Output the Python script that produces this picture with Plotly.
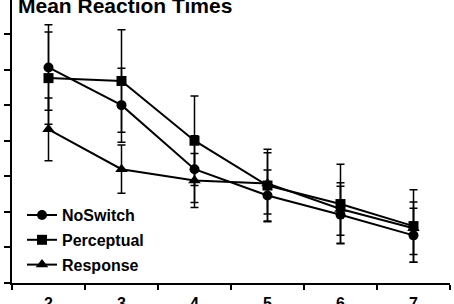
import plotly.graph_objects as go

categories = ["2", "3", "4", "5", "6", "7"]
series_names = ["NoSwitch", "Perceptual", "Response"]
noswitch = [703, 650, 560, 523, 496, 467]
noswitch_err = [60, 52, 47, 36, 40, 38]
perceptual = [688, 684, 600, 537, 511, 480]
perceptual_err = [65, 72, 63, 51, 56, 51]
response = [616, 560, 544, 540, 504, 477]
response_err = [44, 34, 38, 43, 37, 37]
y_tick_values = [400, 450, 500, 550, 600, 650, 700, 750]
title_text = "Mean Reaction Times"

FONT = "Arial, Liberation Sans, sans-serif"

fig = go.Figure()
series = [
    (series_names[0], noswitch, noswitch_err, "circle", 10),
    (series_names[1], perceptual, perceptual_err, "square", 10),
    (series_names[2], response, response_err, "triangle-up", 11),
]
for name, vals, errs, sym, size in series:
    fig.add_trace(go.Scatter(
        x=categories, y=vals, name=name, mode="lines+markers",
        legendgroup=name,
        line=dict(color="black", width=2),
        marker=dict(symbol=sym, size=size, color="black"),
        error_y=dict(type="data", array=errs, visible=True,
                     color="black", thickness=1.5, width=4),
    ))

fig.update_layout(
    template="none",
    width=454, height=304,
    margin=dict(l=12, r=4, t=0, b=21, autoexpand=False),
    paper_bgcolor="white", plot_bgcolor="white",
    font=dict(family=FONT, color="black"),
    title=dict(text=title_text, x=18 / 454, xanchor="left", xref="container",
               y=1 - 13.3 / 304, yanchor="bottom", yref="container",
               font=dict(size=21, weight="bold", family=FONT, color="black")),
    showlegend=True,
    legend=dict(x=10 / 438, xanchor="left", y=0.30, yanchor="top",
                bgcolor="rgba(0,0,0,0)", borderwidth=0, tracegroupgap=1,
                font=dict(size=16, weight="bold", family=FONT, color="black")),
)
fig.update_xaxes(
    type="category", range=[-0.5, 5.5], tickson="boundaries",
    automargin=False,
    showline=True, linecolor="black", linewidth=2,
    ticks="outside", ticklen=5, tickwidth=2, tickcolor="black",
    showgrid=False, zeroline=False,
    tickfont=dict(size=16, weight="bold", family=FONT, color="black"),
    ticklabelstandoff=5,
)
fig.update_yaxes(
    range=[400, 400 + 283 * 50 / 35.57],
    automargin=False,
    tickvals=y_tick_values, showticklabels=False,
    showline=True, linecolor="black", linewidth=2,
    ticks="outside", ticklen=6, tickwidth=2, tickcolor="black",
    showgrid=False, zeroline=False,
)

fig.write_html("out.html")
